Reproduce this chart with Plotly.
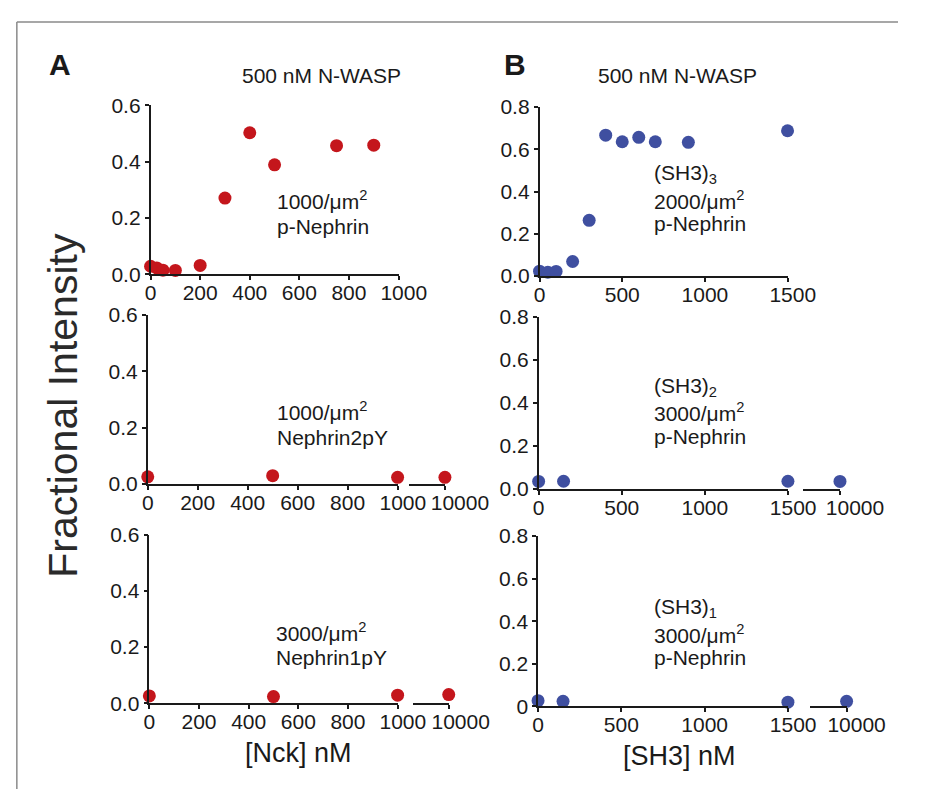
import plotly.graph_objects as go

# page body has an 8px margin; size the figure so the page fits the window
OFF = 8
W, H = 950 - 2 * OFF, 808 - 2 * OFF

# ---------------- data ----------------
nck_a1 = [0, 25, 50, 100, 200, 300, 400, 500, 750, 900]
frac_a1 = [0.029, 0.023, 0.015, 0.014, 0.032, 0.271, 0.503, 0.389, 0.457, 0.459]

sh3_b1 = [0, 50, 100, 200, 300, 400, 500, 600, 700, 900, 1500]
frac_b1 = [0.023, 0.018, 0.022, 0.069, 0.264, 0.667, 0.636, 0.657, 0.636, 0.633, 0.688]

nck_a2 = [0, 500, 1000]
frac_a2 = [0.026, 0.030, 0.024]
nck_a2_hi = [10000]
frac_a2_hi = [0.024]

nck_a3 = [0, 500, 1000]
frac_a3 = [0.026, 0.024, 0.029]
nck_a3_hi = [10000]
frac_a3_hi = [0.031]

sh3_b2 = [0, 150, 1500]
frac_b2 = [0.035, 0.036, 0.036]
sh3_b2_hi = [10000]
frac_b2_hi = [0.035]

sh3_b3 = [0, 150, 1500]
frac_b3 = [0.027, 0.024, 0.020]
sh3_b3_hi = [10000]
frac_b3_hi = [0.024]

nck_ticks = [0, 200, 400, 600, 800, 1000]
nck_text = ["0", "200", "400", "600", "800", "\u20021000"]
sh3_ticks = [0, 500, 1000, 1500]
sh3_text = ["0", "500", "1000", "\u20021500"]
hi_ticks = [10000]
hi_text = ["10000"]
yA_ticks = [0, 0.2, 0.4, 0.6]
yA_text = ["0.0", "0.2", "0.4", "0.6"]
yB_ticks = [0, 0.2, 0.4, 0.6, 0.8]
yB_text = ["0.0", "0.2", "0.4", "0.6", "0.8"]
yB3_text = ["0", "0.2", "0.4", "0.6", "0.8"]

RED = "#C4161C"
BLUE = "#3F4FA0"
INK = "#1a1a1a"
FONT = "Liberation Sans, Arial, sans-serif"
FS = 21


def px(x):
    return (x - OFF) / W


def py(y):
    return 1 - (y - OFF) / H


fig = go.Figure()


def add(xs, ys, color, xa, ya):
    fig.add_trace(go.Scatter(
        x=xs, y=ys, mode="markers", xaxis=xa, yaxis=ya, cliponaxis=False,
        marker=dict(color=color, size=13, line=dict(width=0)),
        showlegend=False, hoverinfo="x+y"))


add(nck_a1, frac_a1, RED, "x", "y")
add(sh3_b1, frac_b1, BLUE, "x2", "y2")
add(nck_a2, frac_a2, RED, "x3", "y3")
add(sh3_b2, frac_b2, BLUE, "x4", "y4")
add(nck_a3, frac_a3, RED, "x5", "y5")
add(sh3_b3, frac_b3, BLUE, "x6", "y6")
add(nck_a2_hi, frac_a2_hi, RED, "x7", "y3")
add(sh3_b2_hi, frac_b2_hi, BLUE, "x8", "y4")
add(nck_a3_hi, frac_a3_hi, RED, "x9", "y5")
add(sh3_b3_hi, frac_b3_hi, BLUE, "x10", "y6")

common = dict(showline=True, linecolor=INK, linewidth=1.5, ticks="outside",
              ticklen=4, tickwidth=1.5, tickcolor=INK, showgrid=False,
              zeroline=False, tickfont=dict(size=FS, color=INK, family=FONT),
              fixedrange=True)


def xax(x0, x1, rng, tv, tt, anchor, shift=0):
    return dict(domain=[px(x0), px(x1)], range=rng, tickvals=tv,
                ticktext=tt, anchor=anchor, ticklabelstandoff=-5,
                ticklabelshift=shift, **common)


def yax(ytop, ybot, rng, tv, tt, anchor):
    return dict(domain=[py(ybot), py(ytop)], range=rng, tickvals=tv,
                ticktext=tt, anchor=anchor, **common)


layout = dict(
    width=W, height=H, margin=dict(l=0, r=0, t=0, b=0),
    paper_bgcolor="white", plot_bgcolor="rgba(0,0,0,0)",
    font=dict(family=FONT, color=INK),
    xaxis=xax(152.3, 414.3, [0, 1000], nck_ticks, nck_text, "y"),
    yaxis=yax(96, 270, [0, 0.6], yA_ticks, yA_text, "x"),
    xaxis2=xax(563.3, 825.3, [0, 1500], sh3_ticks, sh3_text, "y2"),
    yaxis2=yax(97.7, 271.7, [0, 0.8], yB_ticks, yB_text, "x2"),
    xaxis3=xax(149.3, 413.3, [0, 1000], nck_ticks, nck_text, "y3"),
    yaxis3=yax(311.7, 486, [0, 0.6], yA_ticks, yA_text, "x3"),
    xaxis4=xax(562.3, 825.7, [0, 1500], sh3_ticks, sh3_text, "y4"),
    yaxis4=yax(314, 491, [0, 0.8], yB_ticks, yB_text, "x4"),
    xaxis5=xax(151, 413.3, [0, 1000], nck_ticks, nck_text, "y5"),
    yaxis5=yax(538.3, 711.7, [0, 0.6], yA_ticks, yA_text, "x5"),
    xaxis6=xax(561.7, 825.7, [0, 1500], sh3_ticks, sh3_text, "y6"),
    yaxis6=yax(539.3, 715, [0, 0.8], yB_ticks, yB3_text, "x6"),
    xaxis7=xax(425, 463.3, [9000, 10000], hi_ticks, hi_text, "y3", 15),
    xaxis8=xax(841.7, 880.7, [9000, 10000], hi_ticks, hi_text, "y4", 15),
    xaxis9=xax(429.3, 467.3, [9000, 10000], hi_ticks, hi_text, "y5", 12),
    xaxis10=xax(849.3, 887.7, [9000, 10000], hi_ticks, hi_text, "y6", 10),
)
fig.update_layout(**layout)

anns = []


def txt(x, y, s, size=FS, xanchor="left", bold=False, angle=0):
    anns.append(dict(xref="paper", yref="paper", x=px(x), y=py(y), text=s,
                     showarrow=False, xanchor=xanchor, yanchor="middle",
                     textangle=angle,
                     font=dict(size=size, color=INK, family=FONT,
                               weight="bold" if bold else "normal")))


# panel letters and titles
txt(57, 54, "A", size=30, xanchor="center", bold=True)
txt(537, 54, "B", size=30, xanchor="center", bold=True)
txt(333, 65, "500 nM N-WASP", xanchor="center")
txt(709, 65, "500 nM N-WASP", xanchor="center")

# in-panel labels
txt(284, 193, "1000/μm<sup>2</sup>")
txt(284, 221, "p-Nephrin")
txt(682, 167, "(SH3)<sub>3</sub>")
txt(682, 193, "2000/μm<sup>2</sup>")
txt(682, 218, "p-Nephrin")
txt(284, 411, "1000/μm<sup>2</sup>")
txt(284, 438, "Nephrin2pY")
txt(283, 638, "3000/μm<sup>2</sup>")
txt(283, 665, "Nephrin1pY")
txt(682, 386, "(SH3)<sub>2</sub>")
txt(682, 412, "3000/μm<sup>2</sup>")
txt(682, 437, "p-Nephrin")
txt(682, 614, "(SH3)<sub>1</sub>")
txt(682, 640, "3000/μm<sup>2</sup>")
txt(682, 665, "p-Nephrin")

# axis titles
txt(309, 763, "[Nck] nM", size=27, xanchor="center")
txt(711, 766, "[SH3] nM", size=27, xanchor="center")
anns.append(dict(xref="paper", yref="paper", x=px(60), y=py(405),
                 text="Fractional Intensity", showarrow=False,
                 xanchor="center", yanchor="middle", textangle=-90,
                 font=dict(size=41, color="#2a2a2a", family=FONT)))

fig.update_layout(annotations=anns)

# outer frame (left and top edges only visible)
fig.add_shape(type="line", xref="paper", yref="paper",
              x0=px(11), y0=py(10), x1=px(11), y1=0,
              line=dict(color="#8a8a8a", width=1.5))
fig.add_shape(type="line", xref="paper", yref="paper",
              x0=px(11), y0=py(10), x1=1, y1=py(10),
              line=dict(color="#8a8a8a", width=1.5))

fig.write_html("out.html")
